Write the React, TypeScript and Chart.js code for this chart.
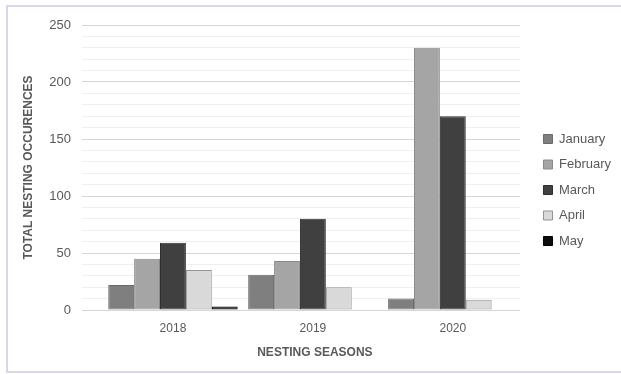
import { useEffect, useRef } from 'react';
import { Chart, registerables } from 'chart.js';

Chart.register(...registerables);

const categories = ['2018', '2019', '2020'];
const months = ['January', 'February', 'March', 'April', 'May'];
const january = [22, 31, 10];
const february = [45, 43, 230];
const march = [59, 80, 170];
const april = [35, 20, 9];
const may = [3, 0, 0];
const seriesValues = [january, february, march, april, may];
const yMin = 0;
const yMax = 250;
const yMajorStep = 50;
const yMinorStep = 10;
const yTitle = 'TOTAL NESTING OCCURENCES';
const xTitle = 'NESTING SEASONS';

const fills = ['#7f7f7f', '#a5a5a5', '#404040', '#d9d9d9', '#0d0d0d'];
const borders = ['#6a6a6a', '#8a8a8a', '#2e2e2e', '#939393', '#000000'];

export default function App() {
  const ref = useRef<HTMLCanvasElement>(null);

  useEffect(() => {
    if (!ref.current) return;
    const font = "'Liberation Sans', Arial, sans-serif";
    const textColor = '#595959';

    const xTitlePlugin = {
      id: 'xTitleCentered',
      afterDraw(chart: any) {
        const xs = chart.scales.x;
        const ctx = chart.ctx;
        ctx.save();
        ctx.font = `bold 12px ${font}`;
        ctx.fillStyle = textColor;
        ctx.textAlign = 'center';
        ctx.textBaseline = 'middle';
        ctx.fillText(xTitle, xs.getPixelForValue(1) + 2, xs.bottom - 21);
        ctx.restore();
      },
    };

    const chart = new Chart(ref.current, {
      type: 'bar',
      data: {
        datasets: months.map((m, k) => ({
          label: m,
          data: seriesValues[k].map((v, i) => ({ x: i, y: v })),
          backgroundColor: fills[k],
          borderColor: borders[k],
          borderWidth: 1,
          borderSkipped: false,
          categoryPercentage: 0.925,
          barPercentage: 1,
        })),
      },
      options: {
        animation: false,
        responsive: false,
        layout: { padding: { top: 6, left: 0, right: 0, bottom: 0 } },
        plugins: {
          legend: {
            position: 'right',
            maxWidth: 93,
            labels: {
              boxWidth: 9,
              boxHeight: 9,
              padding: 12.5,
              color: textColor,
              font: { family: font, size: 13 },
            },
          },
          tooltip: { enabled: false },
        },
        scales: {
          x: {
            type: 'linear',
            offset: false,
            min: -0.65,
            max: 2.48,
            grid: { display: false, offset: false },
            border: { display: false },
            afterBuildTicks: (s: any) => {
              s.ticks = categories.map((_, i) => ({ value: i }));
            },
            ticks: {
              callback: (v: any) => categories[v] ?? '',
              color: textColor,
              font: { family: font, size: 12 },
              padding: 3,
              maxRotation: 0,
              autoSkip: false,
            },
            afterFit: (s: any) => {
              s.height = 64;
            },
          },
          y: {
            min: yMin,
            max: yMax,
            grid: {
              color: (c: any) => (c.tick && c.tick.value % yMajorStep === 0 ? '#d6d6d6' : '#efefef'),
              drawTicks: false,
            },
            border: { display: false },
            ticks: {
              stepSize: yMinorStep,
              autoSkip: false,
              callback: (v: any) => (v % yMajorStep === 0 ? String(v) : ''),
              color: textColor,
              font: { family: font, size: 13 },
              padding: 11,
            },
            title: {
              display: true,
              text: yTitle,
              color: textColor,
              font: { family: font, size: 12, weight: 'bold' },
              padding: { top: 21, bottom: 0 },
            },
            afterFit: (s: any) => {
              s.width = 82;
              s.paddingTop = 25;
            },
          },
          yR: {
            type: 'linear',
            position: 'right',
            display: true,
            grid: { display: false },
            border: { display: false },
            ticks: { display: false },
            afterFit: (s: any) => {
              s.width = 11;
            },
          },
        },
      },
      plugins: [xTitlePlugin],
    } as any);

    return () => chart.destroy();
  }, []);

  return (
    <div style={{ position: 'fixed', left: 0, top: 0, width: 621, height: 374, overflow: 'hidden', background: '#fff' }}>
      <div
        style={{
          position: 'absolute',
          left: 6,
          top: 5,
          width: 640,
          height: 364,
          border: '2px solid #d6d6ee',
        }}
      />
      <canvas ref={ref} width={621} height={374} style={{ position: 'absolute', left: 0, top: 0, width: 621, height: 374 }} />
    </div>
  );
}
